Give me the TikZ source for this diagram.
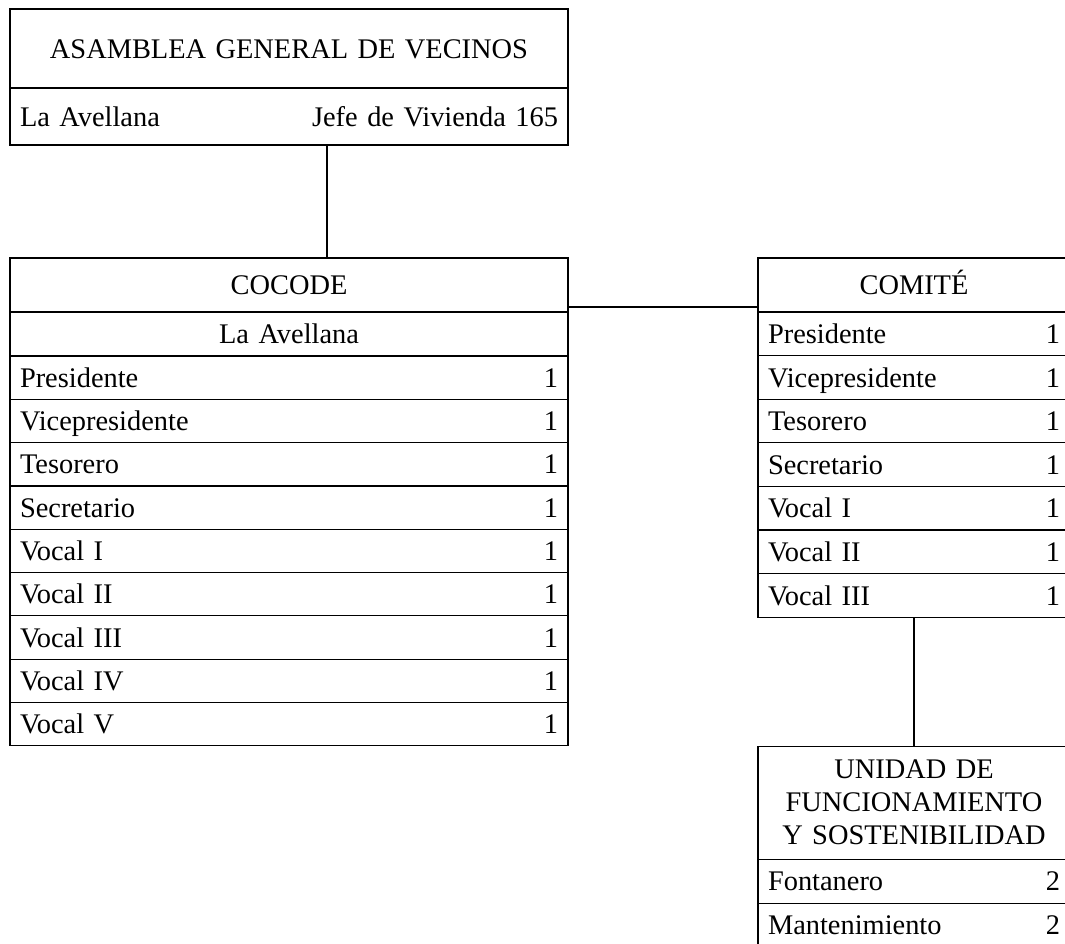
\documentclass[tikz,border=0pt]{standalone}
\usepackage{fontspec}
\setmainfont[WordSpace=0.85]{Liberation Serif}
\usetikzlibrary{positioning}
\setlength{\parindent}{0pt}
\def\fillgap{\hskip 0pt plus 1filll}

\tikzset{
	box/.style={draw, rectangle, inner sep=0pt, inner xsep=5pt, outer sep=0pt, font=\fontsize{14.2}{16.5}\selectfont},
	wide/.style={box, text width=269pt},
	slim/.style={box, text width=146pt},
	line/.style={text height=12.6pt, text depth=3pt},
	wrow/.style={wide, line, minimum height=21.65pt},
	srow/.style={slim, line, minimum height=21.8pt},
}

\begin{document}
\begin{tikzpicture}[line width=0.6pt]
\clip (0,0) rectangle (532.5pt,-471.5pt);
\node[wide, line, align=center, minimum height=39.5pt, anchor=north west]	(asamblea)	at (5pt,-4.5pt)				{ASAMBLEA GENERAL DE VECINOS};
\node[wide, line, minimum height=28.5pt]				(asambleaB)	[below=0pt of asamblea]		{La Avellana\fillgap Jefe de Vivienda 165};
\node[wide, line, align=center, minimum height=27pt]			(cocode)	[below=56.5pt of asambleaB]	{COCODE};
\node[wide, line, align=center, minimum height=22pt]			(cocodeB)	[below=0pt of cocode]		{La Avellana};
\node[wrow]								(c_pres)	[below=0pt of cocodeB]		{Presidente\fillgap 1};
\node[wrow]								(c_vice)	[below=0pt of c_pres]		{Vicepresidente\fillgap 1};
\node[wrow]								(c_tes)		[below=0pt of c_vice]		{Tesorero\fillgap 1};
\node[wrow]								(c_sec)		[below=0pt of c_tes]		{Secretario\fillgap 1};
\node[wrow]								(c_v1)		[below=0pt of c_sec]		{Vocal I\fillgap 1};
\node[wrow]								(c_v2)		[below=0pt of c_v1]		{Vocal II\fillgap 1};
\node[wrow]								(c_v3)		[below=0pt of c_v2]		{Vocal III\fillgap 1};
\node[wrow]								(c_v4)		[below=0pt of c_v3]		{Vocal IV\fillgap 1};
\node[wrow]								(c_v5)		[below=0pt of c_v4]		{Vocal V\fillgap 1};

\node[slim, line, align=center, minimum height=27pt]			(comite)	[right=95pt of cocode]		{COMITÉ};
\node[srow]								(m_pres)	[below=0pt of comite]		{Presidente\fillgap 1};
\node[srow]								(m_vice)	[below=0pt of m_pres]		{Vicepresidente\fillgap 1};
\node[srow]								(m_tes)		[below=0pt of m_vice]		{Tesorero\fillgap 1};
\node[srow]								(m_sec)		[below=0pt of m_tes]		{Secretario\fillgap 1};
\node[srow]								(m_v1)		[below=0pt of m_sec]		{Vocal I\fillgap 1};
\node[srow]								(m_v2)		[below=0pt of m_v1]		{Vocal II\fillgap 1};
\node[srow]								(m_v3)		[below=0pt of m_v2]		{Vocal III\fillgap 1};

\node[slim, align=center, minimum height=56.5pt]			(unidad)	[below=64.5pt of m_v3]		{UNIDAD DE\\FUNCIONAMIENTO\\Y SOSTENIBILIDAD};
\node[slim, line, minimum height=22pt]					(u_fon)		[below=0pt of unidad]		{Fontanero\fillgap 2};
\node[slim, line, minimum height=22pt]					(u_man)		[below=0pt of u_fon]		{Mantenimiento\fillgap 2};

\draw	([xshift=19pt]asambleaB.south)	--	([xshift=19pt]cocode.north);
\draw	([yshift=-11pt]cocode.east)	--	([yshift=-11pt]comite.west);
\draw	(m_v3.south)			--	(unidad.north);
\end{tikzpicture}
\end{document}
